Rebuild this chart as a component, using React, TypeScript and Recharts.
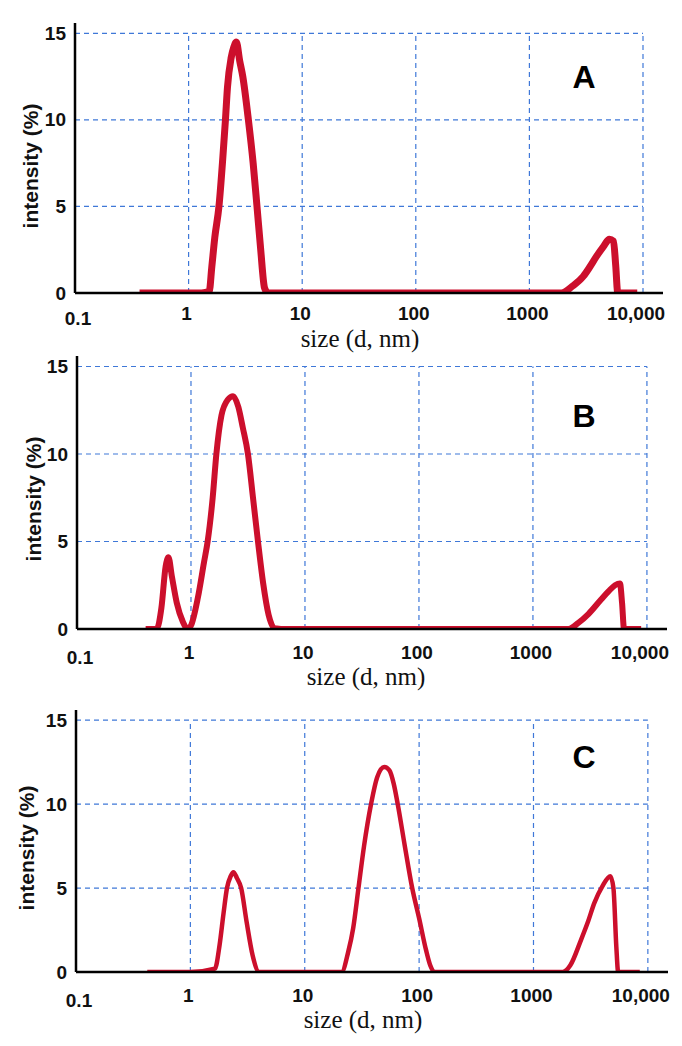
import React from 'react'
import { LineChart, Line, XAxis, YAxis, ReferenceLine } from 'recharts'

const sizeTicks = [0.1, 1, 10, 100, 1000, 10000]
const sizeTickLabels = ['0.1', '1', '10', '100', '1000', '10,000']
const intensityTicks = [0, 5, 10, 15]
const gridSizes = [1, 10, 100, 1000, 10000]
const gridIntensities = [5, 10, 15]

// panel A
const sizeA = [0.37, 0.7, 1, 1.3, 1.52, 1.6, 1.7, 1.85, 2.0, 2.11, 2.2, 2.37, 2.5, 2.63, 2.82, 3.0, 3.36, 3.7, 4.0, 4.3, 4.66, 5.0, 7, 10, 30, 100, 300, 1000, 1910, 2400, 2980, 3400, 3880, 4500, 5060, 5500, 5750, 6000, 7000, 8900]
const intensityA = [0, 0, 0, 0, 0.1, 1.5, 3.2, 5, 7.8, 10, 11.9, 13.6, 14.2, 14.5, 13.4, 12.5, 10, 7.5, 5, 2.6, 0.3, 0, 0, 0, 0, 0, 0, 0, 0, 0.4, 0.96, 1.5, 2.1, 2.7, 3.1, 3.0, 1.6, 0, 0, 0]

// panel B
const sizeB = [0.4, 0.5, 0.55, 0.6, 0.635, 0.68, 0.75, 0.85, 0.93, 1.0, 1.15, 1.3, 1.4, 1.55, 1.67, 1.85, 2.1, 2.34, 2.6, 2.85, 3.16, 3.5, 3.87, 4.3, 4.8, 5.4, 7, 10, 100, 1000, 2050, 2500, 3080, 3980, 4600, 5250, 5800, 6050, 6300, 8900]
const intensityB = [0, 0, 1.2, 3.6, 4.1, 3.0, 1.5, 0.4, 0, 0.2, 1.8, 3.8, 5, 7.5, 10, 12.2, 13.1, 13.3, 12.7, 11.5, 10, 7.5, 5, 2.6, 0.8, 0.05, 0, 0, 0, 0, 0, 0.35, 0.87, 1.7, 2.15, 2.5, 2.6, 1.5, 0, 0]

// panel C
const sizeC = [0.42, 1, 1.64, 1.8, 1.95, 2.09, 2.25, 2.38, 2.55, 2.78, 3.1, 3.5, 4.0, 7, 10, 21, 24, 26.5, 29.5, 33, 38, 43, 49.6, 55, 60, 65, 75, 87, 100, 115, 125, 136, 300, 1000, 1800, 2100, 2600, 3000, 3400, 4000, 4700, 5000, 5300, 5500, 8500]
const intensityC = [0, 0, 0.2, 1.6, 3.5, 5, 5.7, 5.94, 5.6, 5, 3.0, 1.0, 0, 0, 0, 0, 1.2, 2.6, 5, 7.5, 10, 11.6, 12.2, 12.0, 11.2, 10, 7.5, 5, 3.2, 1.3, 0.4, 0, 0, 0, 0, 0.4, 1.9, 3.0, 4.1, 5.1, 5.7, 5.0, 1.5, 0, 0]

const RED = '#cc0f2c'
const BLUE = '#3f78d8'
const SANS = '"Liberation Sans", Arial, sans-serif'
const SERIF = '"Liberation Serif", "Times New Roman", serif'
const Y_AXIS_W = 60
const X_AXIS_H = 40

const panels = [
  { letter: 'A', sizes: sizeA, values: intensityA, top: 0, height: 345, plotTop: 23, plotBottom: 293, plotLeft: 75, plotRight: 663, lineW: 7, tickDy: 20, xLabel: [360, 339], yLabel: [31, 166], letterPos: [584, 77] },
  { letter: 'B', sizes: sizeB, values: intensityB, top: 345, height: 350, plotTop: 356, plotBottom: 629, plotLeft: 77, plotRight: 667, lineW: 6, tickDy: 23, xLabel: [366, 677], yLabel: [34, 499], letterPos: [584, 416] },
  { letter: 'C', sizes: sizeC, values: intensityC, top: 695, height: 351, plotTop: 710, plotBottom: 972, plotLeft: 76, plotRight: 668, lineW: 4.5, tickDy: 23, xLabel: [363, 1020], yLabel: [27, 848], letterPos: [584, 757] },
]

function Panel({ p }: { p: (typeof panels)[number] }) {
  const data = p.sizes.map((s, i) => ({ size: s, intensity: p.values[i] }))
  const margin = {
    top: p.plotTop - p.top,
    left: p.plotLeft - Y_AXIS_W,
    right: 682 - p.plotRight,
    bottom: p.height - (p.plotBottom - p.top) - X_AXIS_H,
  }

  const XTick = (props: any) => {
    const { x, payload } = props
    const i = sizeTicks.indexOf(payload.value)
    const first = i === 0
    const last = i === sizeTicks.length - 1
    return (
      <text x={x + (first ? 3 : last ? -7 : -2)} y={p.plotBottom - p.top + p.tickDy + (first ? 5 : 0)} textAnchor="middle" dominantBaseline="central" fontFamily={SANS} fontWeight="bold" fontSize={19} fill="#111">
        {sizeTickLabels[i]}
      </text>
    )
  }

  const YTick = (props: any) => {
    const { y, payload } = props
    return (
      <text x={p.plotLeft - 9} y={y} textAnchor="end" dominantBaseline="central" fontFamily={SANS} fontWeight="bold" fontSize={19} fill="#111">
        {payload.value}
      </text>
    )
  }

  return (
    <div style={{ position: 'absolute', left: 0, top: p.top, width: 682, height: p.height }}>
      <LineChart width={682} height={p.height} data={data} margin={margin}>
        <XAxis dataKey="size" type="number" scale="log" domain={[0.1, 15000]} ticks={sizeTicks} allowDataOverflow tick={<XTick />} tickLine={false} axisLine={{ stroke: '#000', strokeWidth: 2.5 }} height={X_AXIS_H} />
        <YAxis type="number" domain={[0, 15.6]} ticks={intensityTicks} allowDataOverflow tick={<YTick />} tickLine={false} axisLine={{ stroke: '#000', strokeWidth: 2.5 }} width={Y_AXIS_W} />
        {gridIntensities.map((v) => (
          <ReferenceLine key={'h' + v} segment={[{ x: 0.1, y: v }, { x: 10000, y: v }]} stroke={BLUE} strokeWidth={1.2} strokeDasharray="5 4" />
        ))}
        {gridSizes.map((s) => (
          <ReferenceLine key={'v' + s} segment={[{ x: s, y: 0 }, { x: s, y: 15 }]} stroke={BLUE} strokeWidth={1.2} strokeDasharray="5 4" />
        ))}
        <Line type="monotone" dataKey="intensity" stroke={RED} strokeWidth={p.lineW} strokeLinejoin="round" dot={false} isAnimationActive={false} />
      </LineChart>
      <div style={{ position: 'absolute', left: p.yLabel[0], top: p.yLabel[1] - p.top, transform: 'translate(-50%, -50%) rotate(-90deg)', fontFamily: SANS, fontWeight: 'bold', fontSize: 21, whiteSpace: 'nowrap', color: '#111' }}>
        intensity (%)
      </div>
      <div style={{ position: 'absolute', left: p.xLabel[0], top: p.xLabel[1] - p.top, transform: 'translate(-50%, -50%)', fontFamily: SERIF, fontSize: 25, whiteSpace: 'nowrap', color: '#111' }}>
        size (d, nm)
      </div>
      <div style={{ position: 'absolute', left: p.letterPos[0], top: p.letterPos[1] - p.top, transform: 'translate(-50%, -50%)', fontFamily: SANS, fontWeight: 'bold', fontSize: 32, color: '#000' }}>
        {p.letter}
      </div>
    </div>
  )
}

export default function App() {
  return (
    <div style={{ position: 'absolute', left: 0, top: 0, width: 682, height: 1046, background: '#fff' }}>
      {panels.map((p) => (
        <Panel key={p.letter} p={p} />
      ))}
    </div>
  )
}
